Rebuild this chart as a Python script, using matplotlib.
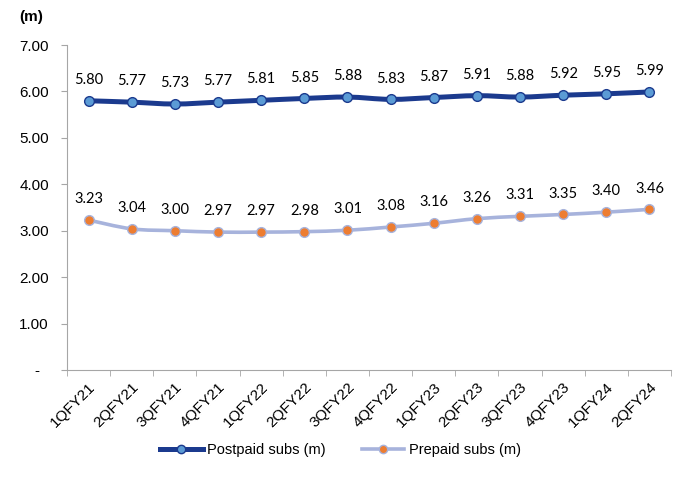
import numpy as np
import matplotlib.pyplot as plt
from matplotlib.path import Path
from matplotlib.patches import PathPatch
from matplotlib.lines import Line2D

quarters = ['1QFY21', '2QFY21', '3QFY21', '4QFY21', '1QFY22', '2QFY22', '3QFY22',
            '4QFY22', '1QFY23', '2QFY23', '3QFY23', '4QFY23', '1QFY24', '2QFY24']
postpaid = [5.80, 5.77, 5.73, 5.77, 5.81, 5.85, 5.88, 5.83, 5.87, 5.91, 5.88, 5.92, 5.95, 5.99]
prepaid = [3.23, 3.04, 3.00, 2.97, 2.97, 2.98, 3.01, 3.08, 3.16, 3.26, 3.31, 3.35, 3.40, 3.46]
yticks = [0, 1, 2, 3, 4, 5, 6, 7]

post_line, post_face = '#1B3A8E', '#5B9BD5'
pre_line, pre_face = '#A7B3DC', '#ED7D31'
axis_grey = '#A6A6A6'


def smooth_path(x, y):
    # excel-style smoothed line: bezier segments through each point
    pts = np.column_stack([x, y]).astype(float)
    verts = [pts[0]]
    codes = [Path.MOVETO]
    n = len(pts)
    for i in range(n - 1):
        p0 = pts[i - 1] if i > 0 else pts[i]
        p1, p2 = pts[i], pts[i + 1]
        p3 = pts[i + 2] if i + 2 < n else pts[i + 1]
        c1 = p1 + (p2 - p0) / 6.0
        c2 = p2 - (p3 - p1) / 6.0
        verts += [c1, c2, p2]
        codes += [Path.CURVE4] * 3
    return Path(verts, codes)


fig = plt.figure(figsize=(6.81, 4.9), dpi=100)
ax = fig.add_axes([0.0984, 0.245, 0.887, 0.663])
x = np.arange(len(quarters))

for vals, lc, fc, ec, lw in [(postpaid, post_line, post_face, post_line, 3.6),
                             (prepaid, pre_line, pre_face, pre_line, 2.6)]:
    ax.add_patch(PathPatch(smooth_path(x, vals), facecolor='none', edgecolor=lc,
                           lw=lw, capstyle='round', joinstyle='round', zorder=2))
    ax.plot(x, vals, ls='none', marker='o', ms=7, mfc=fc, mec=ec, mew=1.0, zorder=3)
    for xi, v in zip(x, vals):
        ax.annotate(f'{v:.2f}', (xi, v), xytext=(0, 15), textcoords='offset points',
                    ha='center', va='center', fontsize=10.5, family='Lato', color='#000000')

ax.set_xlim(-0.5, len(quarters) - 0.5)
ax.set_ylim(0, 7)
ax.set_yticks(yticks)
ax.set_yticklabels(['-  ' if t == 0 else f'{t:.2f}' for t in yticks],
                   fontsize=11, family='Liberation Sans')
ax.set_xticks(x)
ax.set_xticklabels(quarters, rotation=45, ha='right', rotation_mode='anchor',
                   fontsize=11, family='Liberation Sans')
ax.tick_params(axis='x', length=0, pad=7)
ax.tick_params(axis='y', length=4, color=axis_grey, pad=9)
# tick marks between categories
ax.set_xticks(np.arange(len(quarters) + 1) - 0.5, minor=True)
ax.tick_params(axis='x', which='minor', length=4, color=axis_grey)

for s in ['top', 'right']:
    ax.spines[s].set_visible(False)
for s in ['left', 'bottom']:
    ax.spines[s].set_color(axis_grey)

fig.text(0.028, 0.965, '(m)', fontsize=11, fontweight='bold', family='Liberation Sans',
         va='center')

handles = [Line2D([], [], color=post_line, lw=3.6, marker='o', ms=6, mfc=post_face, mec=post_line),
           Line2D([], [], color=pre_line, lw=2.6, marker='o', ms=6, mfc=pre_face, mec=pre_line)]
fig.legend(handles, ['Postpaid subs (m)', 'Prepaid subs (m)'], loc='center',
           bbox_to_anchor=(0.5, 0.082), ncol=2, frameon=False, handlelength=2.9,
           handletextpad=0.3, columnspacing=2.5, prop={'family': 'Liberation Sans', 'size': 10.5})

fig.savefig('out.png', dpi=100)
